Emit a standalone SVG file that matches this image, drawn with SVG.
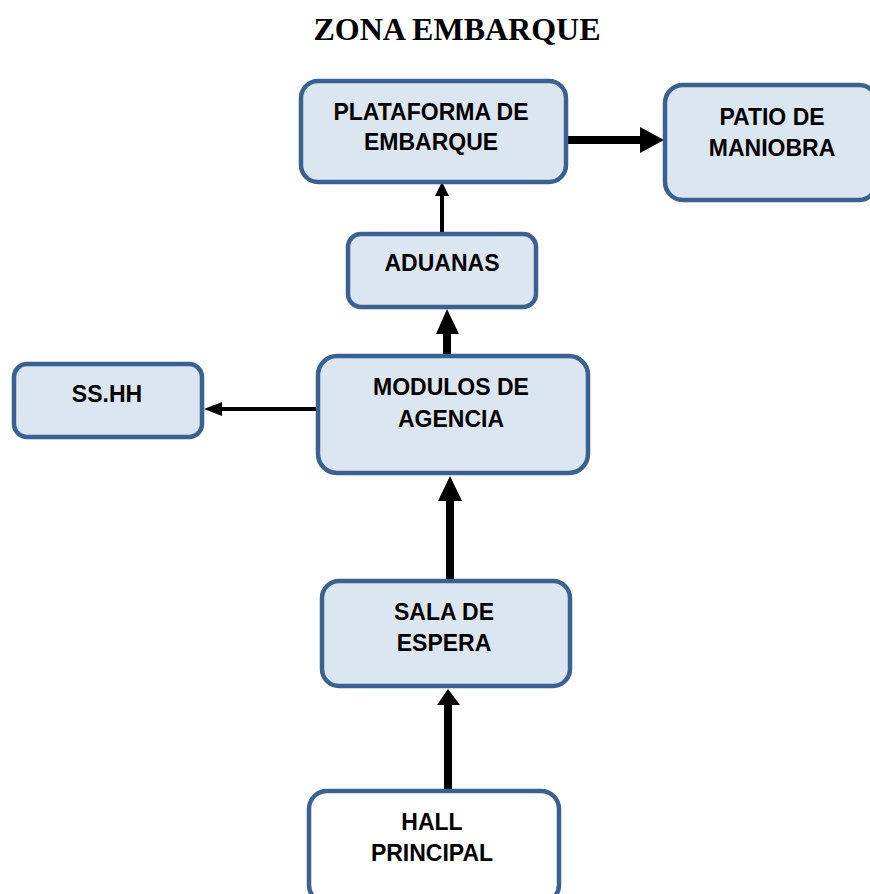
<svg xmlns="http://www.w3.org/2000/svg" width="870" height="894" viewBox="0 0 870 894">
<style>
.box{fill:#dce6f1;stroke:#3b6190;stroke-width:4.5}
.white{fill:#ffffff;stroke:#3b6190;stroke-width:4.5}
.t{font-family:"Liberation Sans",Arial,sans-serif;font-weight:bold;font-size:23px;fill:#000;text-anchor:middle}
.title{font-family:"Liberation Serif","Times New Roman",serif;font-weight:bold;font-size:32px;fill:#000;text-anchor:middle}
.ln{stroke:#000;fill:none}
</style>
<rect width="870" height="894" fill="#ffffff"/>
<text class="title" x="457" y="40">ZONA EMBARQUE</text>
<g id="connectors">
  <line class="ln" x1="567" y1="140" x2="642" y2="140" stroke-width="8"/>
  <polygon points="640,127 664,140 640,153"/>
  <line class="ln" x1="442" y1="234" x2="442" y2="194" stroke-width="4"/>
  <polygon points="435,196 442,182 449,196"/>
  <line class="ln" x1="447" y1="356" x2="447" y2="330" stroke-width="8"/>
  <polygon points="436,334 447,309 459,334"/>
  <line class="ln" x1="317" y1="409" x2="220" y2="409" stroke-width="4"/>
  <polygon points="222,402 204,409 222,416"/>
  <line class="ln" x1="450" y1="583" x2="450" y2="498" stroke-width="8"/>
  <polygon points="438,501 450,476 462,501"/>
  <line class="ln" x1="448" y1="791" x2="448" y2="702" stroke-width="8"/>
  <polygon points="437,705 448,689 460,705"/>
</g>
<g id="plataforma">
  <rect class="box" x="301" y="81" width="265" height="101" rx="17"/>
  <text class="t" x="431" y="120">PLATAFORMA DE</text>
  <text class="t" x="431" y="150">EMBARQUE</text>
</g>
<g id="patio">
  <rect class="box" x="665" y="85" width="212" height="115" rx="18"/>
  <text class="t" x="772" y="125">PATIO DE</text>
  <text class="t" x="772" y="156">MANIOBRA</text>
</g>
<g id="aduanas">
  <rect class="box" x="348" y="234" width="188" height="73" rx="13"/>
  <text class="t" x="442" y="271">ADUANAS</text>
</g>
<g id="sshh">
  <rect class="box" x="14" y="364" width="188" height="73" rx="13"/>
  <text class="t" x="107" y="402">SS.HH</text>
</g>
<g id="modulos">
  <rect class="box" x="318" y="356" width="270" height="117" rx="19"/>
  <text class="t" x="451" y="395">MODULOS DE</text>
  <text class="t" x="451" y="427">AGENCIA</text>
</g>
<g id="sala">
  <rect class="box" x="322" y="581" width="248" height="105" rx="17"/>
  <text class="t" x="444" y="620">SALA DE</text>
  <text class="t" x="444" y="651">ESPERA</text>
</g>
<g id="hall">
  <rect class="white" x="309" y="791" width="250" height="112" rx="18"/>
  <text class="t" x="432" y="830">HALL</text>
  <text class="t" x="432" y="861">PRINCIPAL</text>
</g>
</svg>
